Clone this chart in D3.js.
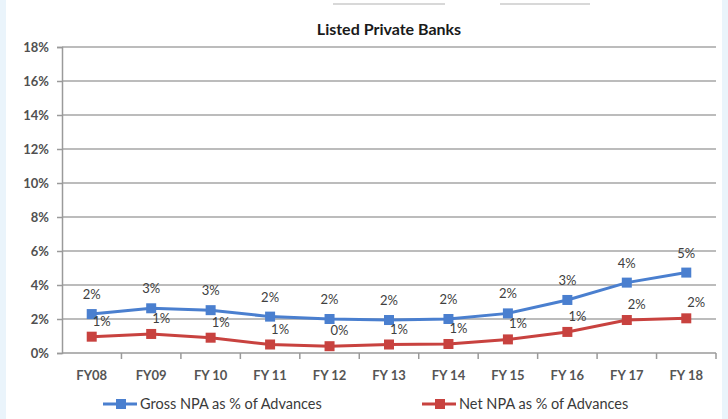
<!DOCTYPE html>
<html>
<head>
<meta charset="utf-8">
<script src="https://cdn.jsdelivr.net/npm/d3@7"></script>
<style>
  html, body { margin: 0; padding: 0; background: #eaf4fb; }
  #chart { display: block; }
  text { font-family: Lato, "Open Sans", sans-serif; }
</style>
</head>
<body>
<svg id="chart" width="728" height="419"></svg>
<script>
// chart data
const years = ["FY08", "FY09", "FY 10", "FY 11", "FY 12", "FY 13", "FY 14", "FY 15", "FY 16", "FY 17", "FY 18"];
const grossNPA = [2.29, 2.63, 2.52, 2.14, 2.0, 1.94, 2.0, 2.33, 3.12, 4.14, 4.73];
const netNPA = [0.96, 1.12, 0.9, 0.5, 0.4, 0.5, 0.53, 0.8, 1.24, 1.94, 2.04];
const yTicks = [0, 2, 4, 6, 8, 10, 12, 14, 16, 18];
const seriesNames = ["Gross NPA as % of Advances", "Net NPA as % of Advances"];

const svg = d3.select("#chart");

// white panel with light blue strips on both sides
svg.append("rect")
    .attr("x", 6).attr("y", 0)
    .attr("width", 716).attr("height", 419)
    .attr("fill", "#ffffff");

// faint leftover lines at the top of the screenshot
svg.append("line").attr("x1", 333).attr("x2", 445).attr("y1", 4).attr("y2", 4)
    .style("stroke", "#d8d8d8").style("stroke-width", 2);
svg.append("line").attr("x1", 500).attr("x2", 590).attr("y1", 4).attr("y2", 4)
    .style("stroke", "#d8d8d8").style("stroke-width", 2);

const plotLeft = 62, plotRight = 716, plotTop = 47, plotBottom = 353;

const x = d3.scaleBand().domain(years).range([plotLeft, plotRight]);
const y = d3.scaleLinear().domain([0, 18]).range([plotBottom, plotTop]);
const cx = d => x(d) + x.bandwidth() / 2;

// title
svg.append("text")
    .attr("x", 389).attr("y", 35)
    .attr("text-anchor", "middle")
    .style("font-size", "16px")
    .style("font-weight", "bold")
    .style("fill", "#1a1a1a")
    .text("Listed Private Banks");

// gridlines
svg.append("g").selectAll("line")
    .data(yTicks.filter(t => t > 0))
    .join("line")
    .attr("x1", plotLeft).attr("x2", plotRight)
    .attr("y1", d => y(d)).attr("y2", d => y(d))
    .style("stroke", "#a6a6a6")
    .style("stroke-width", 1.5);

// y axis
const yAxis = d3.axisLeft(y)
    .tickValues(yTicks)
    .tickSize(5)
    .tickFormat(d => d + "%");
const yG = svg.append("g")
    .attr("transform", `translate(${plotLeft},0)`)
    .call(yAxis);
yG.select(".domain").style("stroke", "#9a9a9a").style("stroke-width", 1.5);
yG.selectAll(".tick line").style("stroke", "#9a9a9a").style("stroke-width", 1.5);
yG.selectAll(".tick text")
    .attr("x", -13)
    .style("font-size", "13px")
    .style("font-weight", "bold")
    .style("fill", "#505050");

// x axis, ticks at category boundaries
const xG = svg.append("g")
    .attr("transform", `translate(0,${plotBottom})`);
xG.append("line")
    .attr("x1", plotLeft).attr("x2", plotRight)
    .style("stroke", "#9a9a9a").style("stroke-width", 1.5);
xG.selectAll(".bt")
    .data(years.slice(1).map(d => x(d)).concat([plotRight]))
    .join("line")
    .attr("class", "bt")
    .attr("x1", d => d).attr("x2", d => d)
    .attr("y1", 0).attr("y2", 6)
    .style("stroke", "#9a9a9a").style("stroke-width", 1.5);
xG.selectAll(".lbl")
    .data(years)
    .join("text")
    .attr("class", "lbl")
    .attr("x", d => cx(d))
    .attr("y", 27)
    .attr("text-anchor", "middle")
    .style("font-size", "13px")
    .style("font-weight", "bold")
    .style("fill", "#555555")
    .text(d => d);

// series
const colors = ["#4a7fcf", "#c8423f"];
const allSeries = [grossNPA, netNPA];
const line = d3.line().x((d, i) => cx(years[i])).y(d => y(d));

allSeries.forEach((vals, si) => {
    svg.append("path")
        .datum(vals)
        .attr("d", line)
        .attr("fill", "none")
        .style("stroke", colors[si])
        .style("stroke-width", 3);
    svg.append("g").selectAll("rect")
        .data(vals)
        .join("rect")
        .attr("x", (d, i) => cx(years[i]) - 5)
        .attr("y", d => y(d) - 5)
        .attr("width", 10).attr("height", 10)
        .attr("fill", colors[si]);
});

// data labels
svg.append("g").selectAll("text")
    .data(grossNPA)
    .join("text")
    .attr("x", (d, i) => cx(years[i]))
    .attr("y", d => y(d) - 15)
    .attr("text-anchor", "middle")
    .style("font-size", "13px")
    .style("fill", "#404040")
    .text(d => Math.round(d) + "%");

svg.append("g").selectAll("text")
    .data(netNPA)
    .join("text")
    .attr("x", (d, i) => cx(years[i]) + 10)
    .attr("y", d => y(d) - 11)
    .attr("text-anchor", "middle")
    .style("font-size", "13px")
    .style("fill", "#404040")
    .text(d => Math.round(d) + "%");

// legend
const legendX = [103, 422];
seriesNames.forEach((name, si) => {
    const g = svg.append("g").attr("transform", `translate(${legendX[si]},404)`);
    g.append("line").attr("x1", 0).attr("x2", 34)
        .style("stroke", colors[si]).style("stroke-width", 3);
    g.append("rect").attr("x", 13).attr("y", -5).attr("width", 10).attr("height", 10)
        .attr("fill", colors[si]);
    g.append("text").attr("x", 37).attr("y", 5)
        .style("font-size", "14.5px")
        .style("fill", "#3a3a3a")
        .text(name);
});
</script>
</body>
</html>
